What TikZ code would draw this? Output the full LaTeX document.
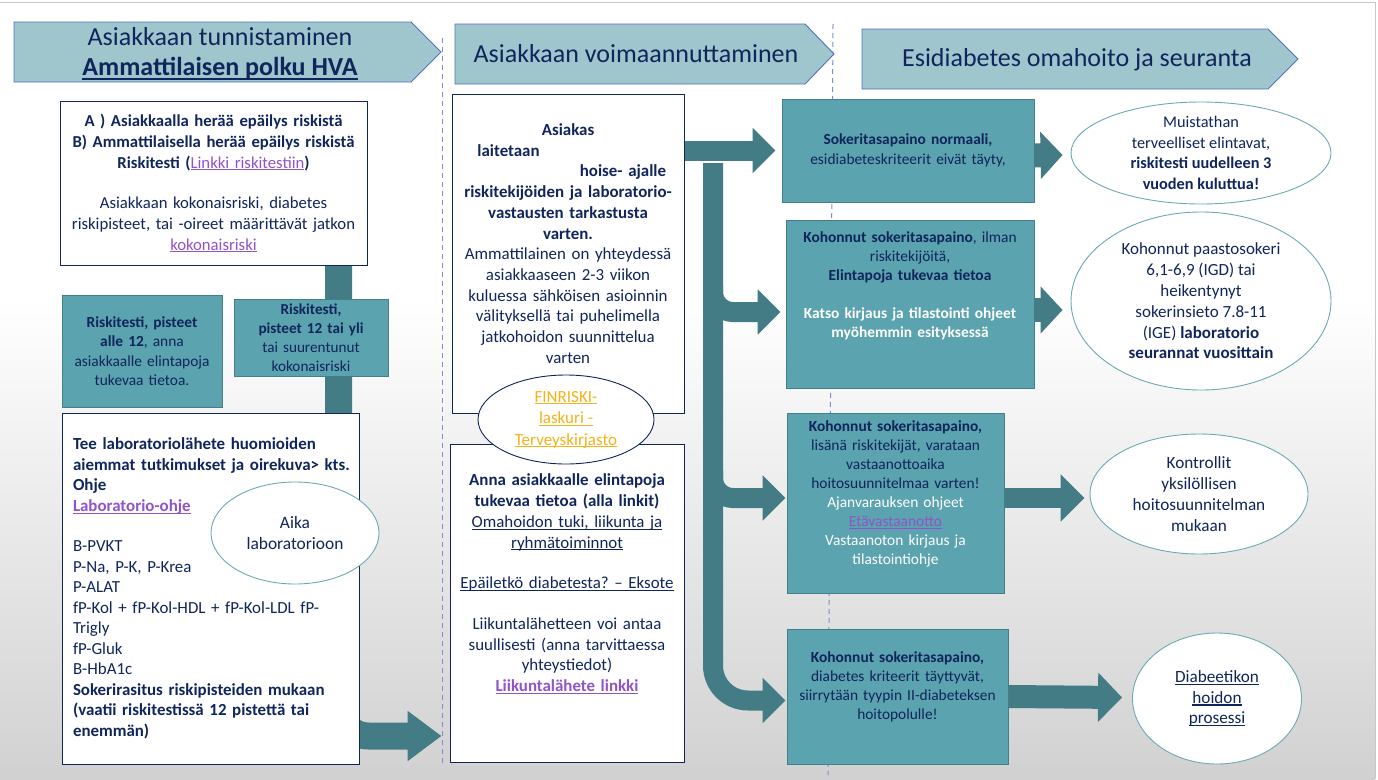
\documentclass[tikz,border=0pt]{standalone}
\usepackage{fontspec}
\setmainfont{Carlito}
\usetikzlibrary{arrows.meta,shapes.geometric,calc}
\pgfdeclarelayer{back}
\pgfdeclarelayer{flows}
\pgfsetlayers{back,flows,main}
\frenchspacing

\definecolor{navy}{HTML}{10255C}
\definecolor{headfill}{HTML}{9FC6CD}
\definecolor{headline}{HTML}{5470C0}
\definecolor{stageblue}{HTML}{7D8FCF}
\definecolor{boxteal}{HTML}{5BA3AE}
\definecolor{tealedge}{HTML}{447F88}
\definecolor{tealdark}{HTML}{437C84}
\definecolor{linkpurple}{HTML}{9153C9}
\definecolor{linkgold}{HTML}{F5B21A}
\definecolor{ovaledge}{HTML}{6AAAB3}
\definecolor{bggray}{HTML}{D1D1D1}
\definecolor{framegray}{HTML}{C8C8C8}

\newcommand{\fsz}[2]{\fontsize{#1}{#2}\selectfont}
\newcommand{\uln}[1]{\leavevmode\setbox0=\hbox{#1}\rlap{\rule[-0.14em]{\wd0}{0.065em}}\box0}
\newcommand{\lnk}[1]{\textcolor{linkpurple}{\uln{#1}}}
\newcommand{\wht}[1]{\textcolor{white}{#1}}

\begin{document}
\begin{tikzpicture}[x=1pt,y=-1pt,
  whitebox/.style={draw=navy, fill=white, line width=.9pt, text=navy, align=center, inner sep=0pt},
  tealbox/.style={draw=tealedge, fill=boxteal, line width=.9pt, text=navy, align=center, inner sep=0pt},
  oval/.style={ellipse, draw=ovaledge, fill=white, line width=.9pt, text=navy, align=center, inner sep=-4pt},
  phase/.style={draw=headline, fill=headfill, line width=.9pt},
  phasetext/.style={text=navy, align=center, font=\fsz{26}{30}},
  flow/.style={draw=tealdark, line width=20pt, -{Triangle[length=23pt,width=44pt]}},
  stageline/.style={draw=stageblue, line width=1pt, dash pattern=on 5pt off 4pt}]
  \useasboundingbox (0,0) rectangle (1378,779);

  % background
  \begin{pgfonlayer}{back}
    \fill[white] (0,0) rectangle (1378,779);
    \shade[top color=white, bottom color=bggray] (0,300) rectangle (1375,779);
    \draw[framegray] (0,2) -- (1375,2) -- (1375,779);
    \draw[stageline] (442,38) -- (442,765);
    \draw[stageline] (833,24) -- (828,775);
  \end{pgfonlayer}

  % phase headers
  \draw[phase] (14,22) -- (411,22) -- (441,52) -- (411,82) -- (14,82) -- cycle;
  \draw[phase] (455,24) -- (805,24) -- (834,54) -- (805,84) -- (455,84) -- cycle;
  \draw[phase] (862,29) -- (1268,29) -- (1298,59) -- (1268,89) -- (862,89) -- cycle;
  \node[phasetext] (vaihe1) at (220,54) {Asiakkaan tunnistaminen\\ \textbf{\uln{Ammattilaisen polku HVA}}};
  \node[phasetext] (vaihe2) at (636,54) {Asiakkaan voimaannuttaminen};
  \node[phasetext] (vaihe3) at (1077,60) {Esidiabetes omahoito ja seuranta};

  % left column
  \node[whitebox, text width=307pt, minimum height=164pt, font=\fsz{16.7}{21}] (riskiA) at (213.5,183) {%
    \textbf{A ) Asiakkaalla herää epäilys riskistä}\\
    \textbf{B) Ammattilaisella herää epäilys riskistä}\\
    \textbf{Riskitesti (}\lnk{Linkki riskitestiin}\textbf{)}\\[19pt]
    Asiakkaan kokonaisriski, diabetes\\
    riskipisteet, tai -oireet määrittävät jatkon\\
    \lnk{kokonaisriski}};
  \node[tealbox, text width=160pt, minimum height=112pt, font=\fsz{15.4}{19.5}] (alle12) at (142,351) {%
    \textbf{Riskitesti, pisteet}\\
    \textbf{alle 12}, anna\\
    asiakkaalle elintapoja\\
    tukevaa tietoa.};
  \node[tealbox, text width=154pt, minimum height=77pt, font=\fsz{15.2}{19}] (yli12) at (311,337.5) {%
    \textbf{Riskitesti,}\\
    \textbf{pisteet 12 tai yli}\\
    tai suurentunut\\
    kokonaisriski};
  \node[whitebox, align=left, text width=297pt, minimum height=351pt, font=\fsz{16.9}{20.5}] (lab) at (210.5,588.5) {%
    \leftskip=11pt
    \textbf{Tee laboratoriolähete huomioiden}\\
    \textbf{aiemmat tutkimukset ja oirekuva> kts.}\\
    \textbf{Ohje}\\
    \textbf{\lnk{Laboratorio-ohje}}\\[20pt]
    B-PVKT\\
    P-Na, P-K, P-Krea\\
    P-ALAT\\
    fP-Kol + fP-Kol-HDL + fP-Kol-LDL fP-\\
    Trigly\\
    fP-Gluk\\
    B-HbA1c\\
    \textbf{Sokerirasitus riskipisteiden mukaan}\\
    \textbf{(vaatii riskitestissä 12 pistettä tai}\\
    \textbf{enemmän)}\par};
  \node[oval, minimum width=168pt, minimum height=102pt, font=\fsz{17.4}{21}] (aika) at (295,533) {Aika\\ laboratorioon};

  % middle column
  \node[whitebox, text width=232pt, minimum height=319pt, font=\fsz{16.9}{20.7}] (tarkastus) at (568,253.5) {%
    \textbf{Asiakas}\\
    \textbf{laitetaan}\hspace*{119pt}\mbox{}\\
    \hspace*{110pt}\textbf{hoise- ajalle}\\
    \textbf{riskitekijöiden ja laboratorio-}\\
    \textbf{vastausten tarkastusta}\\
    \textbf{varten.}\\
    Ammattilainen on yhteydessä\\
    asiakkaaseen 2-3 viikon\\
    kuluessa sähköisen asioinnin\\
    välityksellä tai puhelimella\\
    jatkohoidon suunnittelua\\
    varten\par\vspace*{20pt}};
  \node[whitebox, text width=234pt, minimum height=318pt, font=\fsz{16.9}{20.7}] (elintavat) at (567,603) {%
    \textbf{Anna asiakkaalle elintapoja}\\
    \textbf{tukevaa tietoa (alla linkit)}\\
    \uln{Omahoidon tuki, liikunta ja}\\
    \uln{ryhmätoiminnot}\\[20pt]
    \uln{Epäiletkö diabetesta? – Eksote}\\[20pt]
    Liikuntalähetteen voi antaa\\
    suullisesti (anna tarvittaessa\\
    yhteystiedot)\\
    \textbf{\lnk{Liikuntalähete linkki}}\par\vspace*{38pt}};
  \node[oval, draw=navy, text=linkgold, minimum width=176pt, minimum height=89pt, font=\fsz{17}{21.5}] (finriski) at (566,419.5) {\uln{FINRISKI-}\\ \uln{laskuri -}\\ \uln{Terveyskirjasto}};

  % right column
  \node[tealbox, text width=252pt, minimum height=103pt, font=\fsz{15.4}{19.5}] (normaali) at (908,150.5) {%
    \textbf{Sokeritasapaino normaali,}\\
    esidiabeteskriteerit eivät täyty,};
  \node[tealbox, text width=248pt, minimum height=168pt, font=\fsz{15.4}{19}] (kohonnut) at (910,304) {%
    \textbf{Kohonnut sokeritasapaino}, ilman\\
    riskitekijöitä,\\
    \textbf{Elintapoja tukevaa tietoa}\\[19pt]
    \wht{\textbf{Katso kirjaus ja tilastointi ohjeet}}\\
    \wht{\textbf{myöhemmin esityksessä}}\par\vspace*{36pt}};
  \node[tealbox, text width=217pt, minimum height=180pt, font=\fsz{15.4}{19}] (riskit) at (895.5,503) {%
    \textbf{Kohonnut sokeritasapaino,}\\
    lisänä riskitekijät, varataan\\
    vastaanottoaika\\
    hoitosuunnitelmaa varten!\\
    \wht{Ajanvarauksen ohjeet}\\
    \lnk{Etävastaanotto}\\
    \wht{Vastaanoton kirjaus ja}\\
    \wht{tilastointiohje}\par\vspace*{18pt}};
  \node[tealbox, text width=221pt, minimum height=135pt, font=\fsz{15.4}{19}] (diabetes) at (897.5,696.5) {%
    \textbf{Kohonnut sokeritasapaino,}\\
    diabetes kriteerit täyttyvät,\\
    siirrytään tyypin II-diabeteksen\\
    hoitopolulle!\par\vspace*{19pt}};

  \node[oval, minimum width=260pt, minimum height=102pt, font=\fsz{16.3}{20.7}] (muistathan) at (1201,153) {Muistathan\\ terveelliset elintavat,\\ \textbf{riskitesti uudelleen 3}\\ \textbf{vuoden kuluttua!}};
  \node[oval, minimum width=260pt, minimum height=178pt, font=\fsz{17}{20.8}] (paasto) at (1201,301) {Kohonnut paastosokeri\\ 6,1-6,9 (IGD) tai\\ heikentynyt\\ sokerinsieto 7.8-11\\ (IGE) \textbf{laboratorio}\\ \textbf{seurannat vuosittain}};
  \node[oval, minimum width=218pt, minimum height=120pt, font=\fsz{17.2}{21}] (kontrollit) at (1199,494) {Kontrollit\\ yksilöllisen\\ hoitosuunnitelman\\ mukaan};
  \node[oval, minimum width=169pt, minimum height=131pt, font=\fsz{17.2}{20.7}] (prosessi) at (1217,698.5) {\uln{Diabeetikon}\\ \uln{hoidon}\\ \uln{prosessi}};

  % flows
  \coordinate (runko) at (713,163);
  \begin{pgfonlayer}{flows}
    \draw[flow, line width=27pt, -{Triangle[length=34pt,width=48pt]}, rounded corners=30pt]
      ($(riskiA.south)+(125,0)$) |- ($(elintavat.west)+(-8,133)$);
    \draw[flow] (tarkastus.east |- normaali.west) -- ($(normaali.west)+(-6,0)$);
    \draw[flow, rounded corners=35pt] (runko) |- ($(diabetes.west)+(-1,4)$);
    \draw[flow, rounded corners=20pt] (713,285) |- ($(kohonnut.west)+(-5,8)$);
    \draw[flow, rounded corners=20pt] (713,470) |- ($(riskit.west)+(-1,-5)$);
    \draw[flow, line width=24pt, -{Triangle[length=22pt,width=46pt]}] ($(normaali.east)+(0,5)$) -- ($(muistathan.west)+(-8,2)$);
    \draw[flow, line width=24pt, -{Triangle[length=22pt,width=46pt]}] ($(kohonnut.east)+(0,6)$) -- ($(paasto.west)+(-8,9)$);
    \draw[flow, -{Triangle[length=24pt,width=46pt]}] ($(riskit.east)+(0,-5)$) -- ($(kontrollit.west)+(-5,4)$);
    \draw[flow, line width=23pt, -{Triangle[length=24pt,width=48pt]}] (diabetes.east) -- ($(prosessi.west)+(-10,-1)$);
  \end{pgfonlayer}
\end{tikzpicture}
\end{document}
